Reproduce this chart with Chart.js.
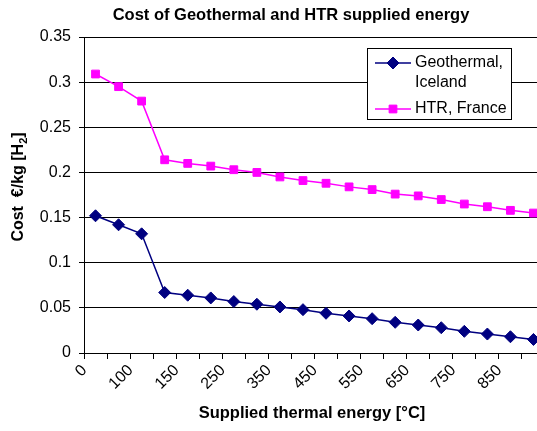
<!DOCTYPE html>
<html>
<head>
<meta charset="utf-8">
<script src="https://cdn.jsdelivr.net/npm/chart.js@4.4.0/dist/chart.umd.min.js"></script>
<style>
  html, body { margin: 0; padding: 0; background: #fff; overflow: hidden; }
  #box { width: 560px; height: 431px; }
</style>
</head>
<body>
<div id="box"><canvas id="grafico"></canvas></div>
<script>
var temperature = ['0', '50', '100', '100', '150', '200', '250', '300', '350', '400', '450', '500', '550', '600', '650', '700', '750', '800', '850', '900'];
var costoGeotermico = [0.152, 0.142, 0.132, 0.067, 0.064, 0.061, 0.057, 0.054, 0.051, 0.048, 0.044, 0.041, 0.038, 0.034, 0.031, 0.028, 0.024, 0.021, 0.018, 0.015];
var costoHTR = [0.309, 0.295, 0.279, 0.214, 0.210, 0.207, 0.203, 0.200, 0.195, 0.191, 0.188, 0.184, 0.181, 0.176, 0.174, 0.170, 0.165, 0.162, 0.158, 0.155];
var tickY = [0, 0.05, 0.1, 0.15, 0.2, 0.25, 0.3, 0.35];

var font = '"Liberation Sans", Arial, sans-serif';

// titoli e legenda disegnati a mano
var testiPlugin = {
    id: 'testi',
    afterDraw: function (chart) {
        var ctx = chart.ctx;
        var area = chart.chartArea;
        ctx.save();
        ctx.fillStyle = '#000';
        ctx.textBaseline = 'middle';

        // titolo
        ctx.font = 'bold 16.5px ' + font;
        ctx.textAlign = 'center';
        ctx.fillText('Cost of Geothermal and HTR supplied energy', 291, 15);

        // titolo asse x
        ctx.font = 'bold 16.5px ' + font;
        ctx.fillText('Supplied thermal energy [°C]', 312, 413);

        // titolo asse y con pedice
        ctx.save();
        ctx.translate(19, 187);
        ctx.rotate(-Math.PI / 2);
        ctx.font = 'bold 16px ' + font;
        var t1 = 'Cost  €/kg [H';
        var w1 = ctx.measureText(t1).width;
        ctx.font = 'bold 11px ' + font;
        var w2 = ctx.measureText('2').width;
        ctx.font = 'bold 16px ' + font;
        var w3 = ctx.measureText(']').width;
        var x0 = -(w1 + w2 + w3) / 2;
        ctx.textAlign = 'left';
        ctx.fillText(t1, x0, 0);
        ctx.font = 'bold 11px ' + font;
        ctx.fillText('2', x0 + w1, 5);
        ctx.font = 'bold 16px ' + font;
        ctx.fillText(']', x0 + w1 + w2, 0);
        ctx.restore();

        // legenda
        var lx = 367, ly = 48, lw = 144, lh = 71;
        ctx.fillStyle = '#fff';
        ctx.fillRect(lx, ly, lw, lh);
        ctx.strokeStyle = '#000';
        ctx.lineWidth = 1;
        ctx.strokeRect(lx + 0.5, ly + 0.5, lw, lh);

        var voci = [
            { ds: 0, righe: ['Geothermal,', 'Iceland'], y: 63 },
            { ds: 1, righe: ['HTR, France'], y: 109 }
        ];
        ctx.font = '16px ' + font;
        ctx.textAlign = 'left';
        for (var i = 0; i < voci.length; i++) {
            var d = chart.data.datasets[voci[i].ds];
            var y = voci[i].y;
            ctx.strokeStyle = d.borderColor;
            ctx.lineWidth = 1.5;
            ctx.beginPath();
            ctx.moveTo(375, y);
            ctx.lineTo(411, y);
            ctx.stroke();
            ctx.fillStyle = d.backgroundColor;
            ctx.lineWidth = 1;
            Chart.helpers.drawPoint(ctx, {
                pointStyle: d.pointStyle,
                radius: d.pointRadius,
                borderWidth: 1
            }, 393, y);
            ctx.fillStyle = '#000';
            for (var r = 0; r < voci[i].righe.length; r++) {
                ctx.fillText(voci[i].righe[r], 415, y + r * 20);
            }
        }
        ctx.restore();
    }
};

var ctx = document.getElementById('grafico');
var chart = new Chart(ctx, {
    type: 'line',
    data: {
        labels: temperature,
        datasets: [{
            label: 'Geothermal, Iceland',
            data: costoGeotermico,
            borderColor: '#000080',
            backgroundColor: '#000080',
            borderWidth: 1.5,
            pointStyle: 'rectRot',
            pointRadius: 6,
            pointBorderWidth: 1,
            tension: 0
        }, {
            label: 'HTR, France',
            data: costoHTR,
            borderColor: '#ff00ff',
            backgroundColor: '#ff00ff',
            borderWidth: 1.5,
            pointStyle: 'rect',
            pointRadius: 5.5,
            pointBorderWidth: 1,
            tension: 0
        }]
    },
    options: {
        responsive: true,
        maintainAspectRatio: false,
        animation: false,
        layout: { padding: { left: 0, right: 15, top: 37, bottom: 0 } },
        plugins: {
            legend: { display: false },
            title: { display: false },
            tooltip: { enabled: false }
        },
        scales: {
            x: {
                type: 'category',
                offset: true,
                afterFit: function (scale) { scale.height = 78; },
                grid: {
                    offset: true,
                    drawOnChartArea: false,
                    drawTicks: true,
                    tickLength: 6,
                    color: '#000'
                },
                border: { color: '#000', width: 1 },
                ticks: {
                    autoSkip: false,
                    maxRotation: 45,
                    minRotation: 45,
                    labelOffset: -11,
                    padding: 2,
                    color: '#000',
                    font: { family: font, size: 16 },
                    callback: function (val, index) {
                        return index % 2 === 0 ? this.getLabelForValue(val) : '';
                    }
                }
            },
            y: {
                min: 0,
                max: 0.35,
                afterFit: function (scale) { scale.width = 84; },
                afterBuildTicks: function (scale) {
                    scale.ticks = tickY.map(function (v) { return { value: v }; });
                },
                grid: {
                    color: '#000',
                    lineWidth: 1,
                    drawTicks: true,
                    tickLength: 5
                },
                border: { color: '#000', width: 1 },
                ticks: {
                    padding: 8,
                    color: '#000',
                    font: { family: font, size: 16 },
                    callback: function (v) { return String(Math.round(v * 100) / 100); }
                }
            }
        }
    },
    plugins: [testiPlugin]
});
</script>
</body>
</html>
